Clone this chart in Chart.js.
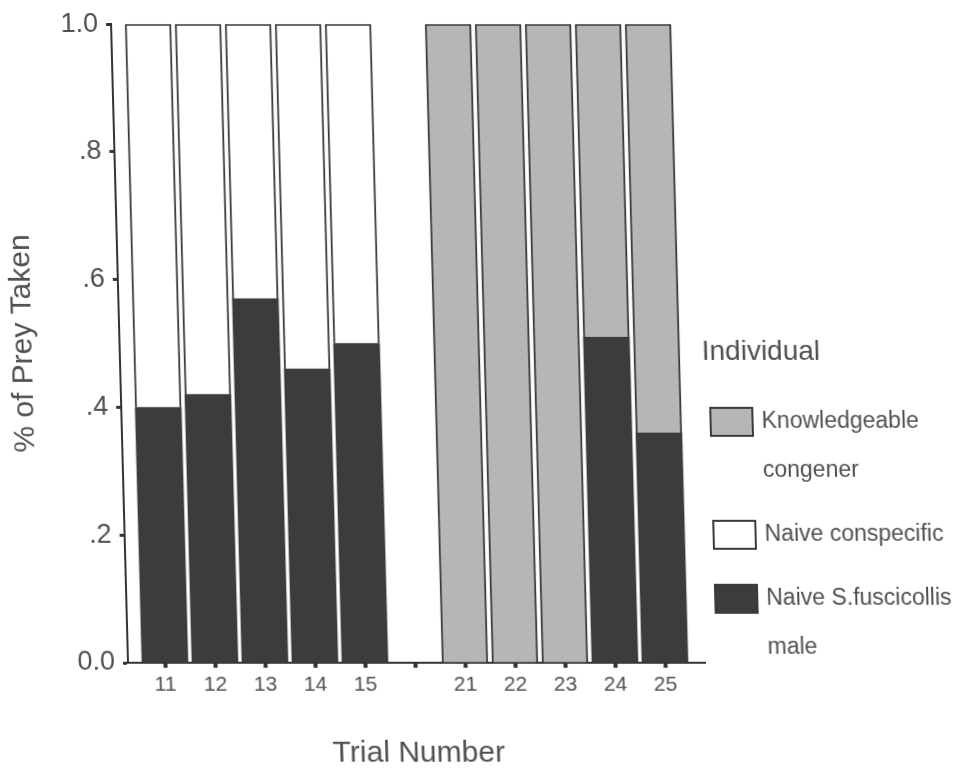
<!DOCTYPE html>
<html>
<head>
<meta charset="utf-8">
<script src="https://cdn.jsdelivr.net/npm/chart.js@4.4.0/dist/chart.umd.min.js"></script>
<style>
  html, body { margin: 0; padding: 0; background: #fff; }
  #wrap { width: 956px; height: 772px; overflow: hidden; }
  /* the scanned figure leans a little to the left at the top */
  #chart { transform: skewX(1.52deg); transform-origin: 0 663px; }
</style>
</head>
<body>
<div id="wrap"><canvas id="chart" width="956" height="772"></canvas></div>
<script>
const trials = ['11', '12', '13', '14', '15', '', '21', '22', '23', '24', '25'];
const maleShare        = [0.40, 0.42, 0.57, 0.46, 0.50, null, 0, 0, 0, 0.51, 0.36];
const conspecificShare = [0.60, 0.58, 0.43, 0.54, 0.50, null, 0, 0, 0, 0, 0];
const congenerShare    = [0, 0, 0, 0, 0, null, 1, 1, 1, 0.49, 0.64];
const yTickLabels = ['0.0', '.2', '.4', '.6', '.8', '1.0'];
const legendTitle = 'Individual';
const seriesNames = [['Naive S.fuscicollis', 'male'], ['Naive conspecific'], ['Knowledgeable', 'congener']];

const textColor = '#505050';
const edge = '#3a3a3a';
const fontFamily = '"Liberation Sans", Arial, Helvetica, sans-serif';
Chart.defaults.font.family = fontFamily;
Chart.defaults.color = textColor;

const ctx = document.getElementById('chart').getContext('2d');

function points(values) {
  return values.map((v, i) => ({ x: i, y: v }));
}

// legend on the right, drawn by hand so the labels can wrap
const sideLegend = {
  id: 'sideLegend',
  afterDraw(chart) {
    const c = chart.ctx;
    c.save();
    c.textBaseline = 'middle';
    c.fillStyle = textColor;
    c.font = '28px ' + fontFamily;
    c.fillText(legendTitle, 710, 352);
    c.font = '23px ' + fontFamily;
    let y = 422;
    chart.data.datasets.slice().reverse().forEach(ds => {
      c.fillStyle = ds.backgroundColor;
      c.fillRect(716, y - 15, 44, 30);
      c.lineWidth = 2;
      c.strokeStyle = edge;
      c.strokeRect(717, y - 14, 42, 28);
      c.fillStyle = textColor;
      ds.lines.forEach((t, k) => c.fillText(t, 768, y + k * 49));
      y += 64 + 49 * (ds.lines.length - 1);
    });
    c.restore();
  }
};

let chart = new Chart(ctx, {
  type: 'bar',
  data: {
    datasets: [
      {
        label: seriesNames[0].join(' '),
        lines: seriesNames[0],
        data: points(maleShare),
        backgroundColor: '#3c3c3c',
        borderWidth: 0
      },
      {
        label: seriesNames[1].join(' '),
        lines: seriesNames[1],
        data: points(conspecificShare),
        backgroundColor: '#ffffff',
        borderColor: edge,
        borderWidth: 2
      },
      {
        label: seriesNames[2].join(' '),
        lines: seriesNames[2],
        data: points(congenerShare),
        backgroundColor: '#b6b6b6',
        borderColor: edge,
        borderWidth: 2
      }
    ]
  },
  options: {
    responsive: false,
    animation: false,
    datasets: { bar: { barThickness: 46 } },
    layout: { padding: { top: 21, right: 251, left: 0, bottom: 0 } },
    plugins: {
      legend: { display: false },
      tooltip: { enabled: false }
    },
    scales: {
      x: {
        type: 'linear',
        stacked: true,
        offset: false,
        min: -0.74,
        max: 10.8,
        afterBuildTicks: s => { s.ticks = trials.map((t, i) => ({ value: i })); },
        afterFit: s => { s.height = 109; },
        grid: { offset: false, drawOnChartArea: false, tickLength: 5, tickWidth: 4, color: '#333' },
        border: { color: '#333', width: 2 },
        ticks: {
          autoSkip: false,
          maxRotation: 0,
          padding: 5,
          font: { size: 21 },
          callback: v => trials[v]
        },
        title: {
          display: true,
          text: 'Trial Number',
          font: { size: 30 },
          padding: { top: 0, bottom: 0 }
        }
      },
      y: {
        stacked: true,
        min: 0,
        max: 1,
        afterFit: s => { s.width = 128; },
        grid: { drawOnChartArea: false, tickLength: 5, tickWidth: 3, color: '#333' },
        border: { color: '#333', width: 2 },
        ticks: {
          stepSize: 0.2,
          padding: 8,
          font: { size: 27 },
          callback: v => yTickLabels[Math.round(v * 5)]
        },
        title: {
          display: true,
          text: '% of Prey Taken',
          font: { size: 30 },
          padding: { top: 14, bottom: 0 }
        }
      }
    }
  },
  plugins: [sideLegend]
});
</script>
</body>
</html>
